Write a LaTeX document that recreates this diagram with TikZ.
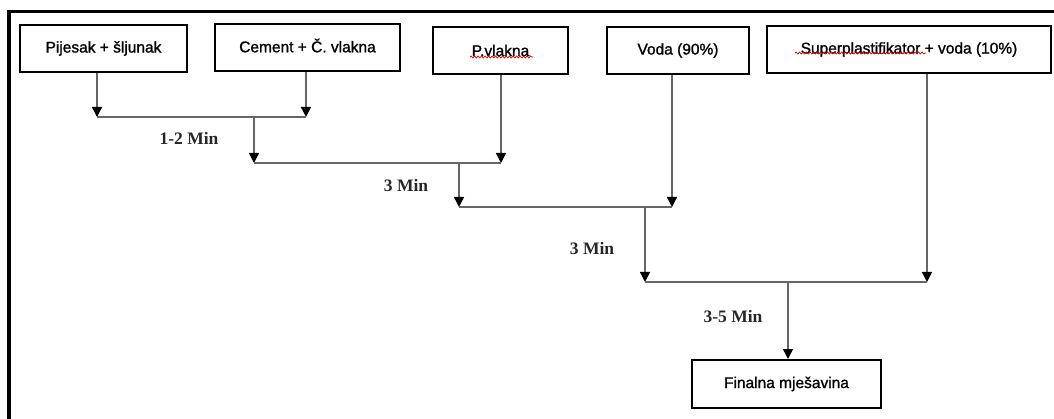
\documentclass[tikz,border=0pt]{standalone}
\usepackage{fontspec}
\setmainfont{Liberation Serif}
\setsansfont{Liberation Sans}
\newfontfamily\boxfont[FakeBold=1.2]{Liberation Sans}
\usetikzlibrary{arrows.meta,decorations.pathmorphing}
\begin{document}
\begin{tikzpicture}[x=1pt,y=-1pt,
  box/.style={draw=black,line width=2pt,fill=white,minimum height=47pt,inner sep=0pt,
    font=\boxfont\fontsize{15.5}{18}\selectfont},
  flow/.style={draw=black!60,line width=1.4pt},
  arr/.style={flow,-{Triangle[length=10pt,width=10pt,color=black]}},
  lbl/.style={font=\rmfamily\bfseries\fontsize{17.5}{20}\selectfont,text=black!85,inner sep=0pt},
  squiggle/.style={draw=red!85!black,line width=0.7pt,decorate,
    decoration={snake,amplitude=1pt,segment length=3.5pt}}]
\useasboundingbox (0,0) rectangle (1054,419);
\begin{scope}
  \clip (0,0) rectangle (1054,419);
  \draw[line width=3.5pt] (9,440) -- (9,11.5) -- (1070,11.5);
\end{scope}
% boxes
\node[box,minimum width=167pt] (b1) at (103.5,48.5) {Pijesak + šljunak};
\node[box,minimum width=185pt] (b2) at (307.5,47.5) {\raisebox{4pt}{Cement + Č. vlakna}};
\node[box,minimum width=135pt] (b3) at (500.5,50.5) {P.vlakna};
\node[box,minimum width=142pt] (b4) at (678,50.5) {Voda (90\%)};
\node[box,minimum width=284pt] (b5) at (909,49.5) {\raisebox{3pt}{Superplastifikator + voda (10\%)}};
\node[box,minimum width=189pt,minimum height=48pt] (fin) at (786.5,384) {Finalna mješavina};
% junction coordinates
\coordinate (j1a) at (97,117);  \coordinate (j1b) at (306,117); \coordinate (j1m) at (254,117);
\coordinate (j2a) at (254,163); \coordinate (j2b) at (501,163); \coordinate (j2m) at (459,163);
\coordinate (j3a) at (459,207); \coordinate (j3b) at (672,207); \coordinate (j3m) at (645,207);
\coordinate (j4a) at (645,282); \coordinate (j4b) at (927,282); \coordinate (j4m) at (788,282);
% connectors
\draw[arr] (b1.south -| j1a) -- (j1a);
\draw[arr] (b2.south -| j1b) -- (j1b);
\draw[flow] (j1a) -- (j1b);
\draw[arr] (j1m) -- (j2a);
\draw[arr] (b3.south -| j2b) -- (j2b);
\draw[flow] (j2a) -- (j2b);
\draw[arr] (j2m) -- (j3a);
\draw[arr] (b4.south -| j3b) -- (j3b);
\draw[flow] (j3a) -- (j3b);
\draw[arr] (j3m) -- (j4a);
\draw[arr] (b5.south -| j4b) -- (j4b);
\draw[flow] (j4a) -- (j4b);
\draw[arr] (j4m) -- (fin.north -| j4m);
% labels
\node[lbl] (t1) at (189,138) {1-2 Min};
\node[lbl] (t2) at (406,186) {3 Min};
\node[lbl] (t3) at (592,249) {3 Min};
\node[lbl] (t4) at (733,317) {3-5 Min};
% spell-check underlines
\draw[squiggle] (470,57) -- (533,57);
\draw[squiggle] (795,53) -- (926,53);
\end{tikzpicture}
\end{document}
